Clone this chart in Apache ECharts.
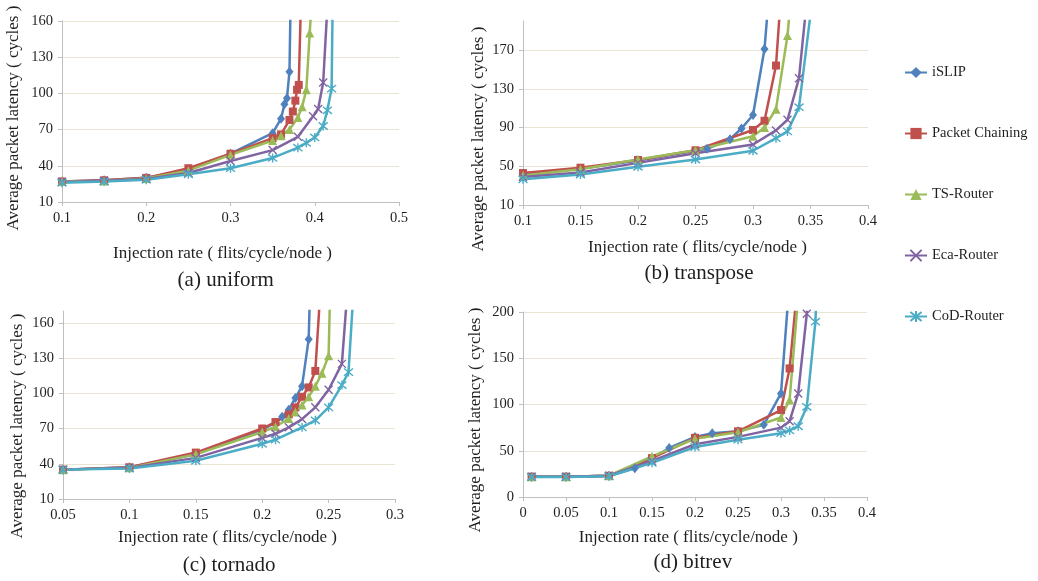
<!DOCTYPE html>
<html>
<head>
<meta charset="utf-8">
<script src="https://cdn.jsdelivr.net/npm/echarts@6/dist/echarts.min.js"></script>
<style>
html,body{margin:0;padding:0;background:#fff;}
#chart{width:1038px;height:581px;}
</style>
</head>
<body>
<div id="chart"></div>
<script>
// ---------- DATA ----------
const routerNames = ['iSLIP', 'Packet Chaining', 'TS-Router', 'Eca-Router', 'CoD-Router'];
const panelTitles = ['(a) uniform', '(b) transpose', '(c) tornado', '(d) bitrev'];
const xAxisTitle = 'Injection rate ( flits/cycle/node )';
const yAxisTitle = 'Average packet latency ( cycles )';

// (a) uniform  [injection rate, latency]
const uniformISLIP = [[0.1,27],[0.15,28],[0.2,30],[0.25,37],[0.3,50],[0.35,67],[0.36,79],[0.364,91],[0.367,96],[0.37,118],[0.372,205]];
const uniformPC    = [[0.1,27],[0.15,28],[0.2,30],[0.25,38],[0.3,50],[0.35,63],[0.36,66],[0.37,78],[0.374,85],[0.377,94],[0.379,103],[0.381,107],[0.384,186]];
const uniformTS    = [[0.1,27],[0.15,27.5],[0.2,29.5],[0.25,36],[0.3,49],[0.35,61],[0.36,65],[0.37,70],[0.38,80],[0.385,89],[0.39,103],[0.394,150],[0.396,172]];
const uniformEca   = [[0.1,26.5],[0.15,27.5],[0.2,29],[0.25,34],[0.3,44],[0.35,53],[0.38,64],[0.398,81],[0.404,87],[0.41,109],[0.415,172]];
const uniformCoD   = [[0.1,26],[0.15,27],[0.2,28.5],[0.25,33],[0.3,38],[0.35,46.5],[0.38,55],[0.39,59],[0.4,63.5],[0.41,73],[0.415,86],[0.42,104],[0.422,216]];

// (b) transpose
const transISLIP = [[0.1,42],[0.15,47.5],[0.2,56],[0.25,66],[0.26,68],[0.28,78],[0.29,89],[0.3,103],[0.31,171],[0.313,215]];
const transPC    = [[0.1,43],[0.15,48.5],[0.2,56.5],[0.25,66.5],[0.3,87.5],[0.31,97],[0.32,154],[0.323,205]];
const transTS    = [[0.1,40.5],[0.15,47],[0.2,57],[0.25,66.5],[0.3,81],[0.31,90],[0.32,109],[0.33,185],[0.332,212]];
const transEca   = [[0.1,39],[0.15,43.5],[0.2,53.5],[0.25,63.5],[0.3,72.5],[0.32,87],[0.33,98],[0.34,141],[0.346,212]];
const transCoD   = [[0.1,36.5],[0.15,41.5],[0.2,49.5],[0.25,57],[0.3,66],[0.32,79],[0.33,86],[0.34,111],[0.35,207]];

// (c) tornado
const tornISLIP = [[0.05,35],[0.1,37],[0.15,48],[0.2,69],[0.21,75],[0.215,80],[0.22,86],[0.225,96],[0.23,106],[0.235,146],[0.237,230]];
const tornPC    = [[0.05,35],[0.1,37],[0.15,49.5],[0.2,70],[0.21,75.5],[0.22,82],[0.225,88],[0.23,97],[0.235,105],[0.24,119],[0.2435,182]];
const tornTS    = [[0.05,35],[0.1,36.5],[0.15,48],[0.2,67],[0.21,71.5],[0.22,78.5],[0.225,84],[0.23,90],[0.235,97],[0.24,106],[0.245,117],[0.25,132],[0.2512,190]];
const tornEca   = [[0.05,35],[0.1,36.5],[0.15,45],[0.2,62],[0.21,65.5],[0.22,71],[0.23,78],[0.24,88],[0.25,103],[0.26,125],[0.265,200]];
const tornCoD   = [[0.05,35],[0.1,36],[0.15,42.5],[0.2,57],[0.21,60.5],[0.23,71],[0.24,77],[0.25,88],[0.26,107],[0.265,118],[0.27,210]];

// (d) bitrev
const bitISLIP = [[0.01,22],[0.05,22],[0.1,23],[0.13,31],[0.17,53],[0.2,65],[0.22,69],[0.25,71],[0.28,78],[0.3,112],[0.309,222]];
const bitPC    = [[0.01,22],[0.05,22],[0.1,23],[0.15,42],[0.2,64],[0.25,71],[0.3,94],[0.31,139],[0.318,217]];
const bitTS    = [[0.01,22],[0.05,22],[0.1,23],[0.15,44],[0.2,63],[0.25,70],[0.3,86],[0.31,105],[0.32,217]];
const bitEca   = [[0.01,22],[0.05,22],[0.1,23],[0.15,39],[0.2,57],[0.25,65],[0.3,75],[0.31,82],[0.32,112],[0.33,198],[0.333,260]];
const bitCoD   = [[0.01,21.5],[0.05,21.5],[0.1,22.5],[0.15,37],[0.2,54],[0.25,62],[0.3,69],[0.31,72],[0.32,76.5],[0.33,97.5],[0.34,189.5],[0.343,260]];

// axis scales per panel
const xMin = [0.1, 0.1, 0.05, 0];
const xMax = [0.5, 0.4, 0.3, 0.4];
const xStep = [0.1, 0.05, 0.05, 0.05];
const yMin = [10, 10, 10, 0];
const yMax = [160, 200, 170, 200];
const yStep = [30, 40, 30, 50];

const panelData = [
  [uniformISLIP, uniformPC, uniformTS, uniformEca, uniformCoD],
  [transISLIP, transPC, transTS, transEca, transCoD],
  [tornISLIP, tornPC, tornTS, tornEca, tornCoD],
  [bitISLIP, bitPC, bitTS, bitEca, bitCoD]
];

// ---------- STYLE ----------
const colors = ['#4F81BD', '#C0504D', '#9BBB59', '#8064A2', '#4BACC6'];
const symbols = [
  'diamond',
  'rect',
  'triangle',
  'path://M0,0L10,10M10,0L0,10',
  'path://M5,0L5,10M1,1L9,9M9,1L1,9'
];
const symbolSizes = [[8,10], 8, 9, 8, 9];
const FONT = '"Liberation Serif", "Times New Roman", serif';
const TXT = '#1f1f1f';

const grids = [
  {left: 62, top: 21, width: 337, height: 181},
  {left: 523, top: 21, width: 345, height: 184},
  {left: 63, top: 311, width: 332, height: 188},
  {left: 523, top: 312, width: 344, height: 185}
];

const xAxes = grids.map((g, i) => ({
  type: 'value', gridIndex: i, min: xMin[i], max: xMax[i], interval: xStep[i],
  axisLine: {show: true, onZero: false, lineStyle: {color: '#BFBFBF', width: 1}},
  axisTick: {show: true, length: 4, lineStyle: {color: '#BFBFBF'}},
  axisLabel: {fontFamily: FONT, fontSize: 14.5, color: TXT, margin: 9},
  splitLine: {show: false}
}));
const yAxes = grids.map((g, i) => ({
  type: 'value', gridIndex: i, min: yMin[i], max: yMax[i], interval: yStep[i],
  axisLine: {show: true, lineStyle: {color: '#BFBFBF', width: 1}},
  axisTick: {show: true, length: 4, lineStyle: {color: '#BFBFBF'}},
  axisLabel: {fontFamily: FONT, fontSize: 14.5, color: TXT, margin: 9,
    showMaxLabel: (yMax[i] - yMin[i]) % yStep[i] === 0},
  splitLine: {show: true, showMaxLine: (yMax[i] - yMin[i]) % yStep[i] === 0,
    lineStyle: {color: '#EAE5D3', width: 1}}
}));

const series = [];
panelData.forEach((arr, p) => {
  arr.forEach((d, r) => {
    const isPath = r >= 3;
    series.push({
      type: 'line', name: routerNames[r], xAxisIndex: p, yAxisIndex: p,
      data: d, clip: true,
      symbol: symbols[r], symbolSize: symbolSizes[r],
      color: colors[r],
      lineStyle: {width: 2.5, color: colors[r]},
      itemStyle: isPath ? {color: colors[r], borderColor: colors[r], borderWidth: 1.4}
                        : {color: colors[r]},
      emphasis: {disabled: true},
      animation: false
    });
  });
});

// text placements
const yTitlePos = [[14, 118], [478.5, 139], [17.5, 426], [476, 420]];
const xTitlePos = [[222.5, 254], [697.5, 247.5], [227.5, 537.5], [688.3, 537.5]];
const subTitlePos = [[225.7, 280], [699, 273.3], [229.2, 565.7], [692.8, 562.3]];

const graphics = [];
for (let i = 0; i < 4; i++) {
  graphics.push({
    type: 'text', x: yTitlePos[i][0], y: yTitlePos[i][1], rotation: Math.PI / 2,
    style: {text: yAxisTitle, fontFamily: FONT, fontSize: 17, fill: TXT, align: 'center', verticalAlign: 'middle'}
  });
  graphics.push({
    type: 'text', x: xTitlePos[i][0], y: xTitlePos[i][1],
    style: {text: xAxisTitle, fontFamily: FONT, fontSize: 17, fill: TXT, align: 'center', verticalAlign: 'middle'}
  });
  graphics.push({
    type: 'text', x: subTitlePos[i][0], y: subTitlePos[i][1],
    style: {text: panelTitles[i], fontFamily: FONT, fontSize: 21, fill: TXT, align: 'center', verticalAlign: 'middle'}
  });
}

const chart = echarts.init(document.getElementById('chart'), null, {renderer: 'canvas'});
chart.setOption({
  animation: false,
  backgroundColor: '#ffffff',
  grid: grids,
  xAxis: xAxes,
  yAxis: yAxes,
  legend: {
    data: routerNames, orient: 'vertical', left: 899, top: 60,
    itemWidth: 22, itemHeight: 14, itemGap: 46,
    textStyle: {fontFamily: FONT, fontSize: 14.5, color: TXT, lineHeight: 14},
    selectedMode: false
  },
  series: series,
  graphic: graphics
});
</script>
</body>
</html>
